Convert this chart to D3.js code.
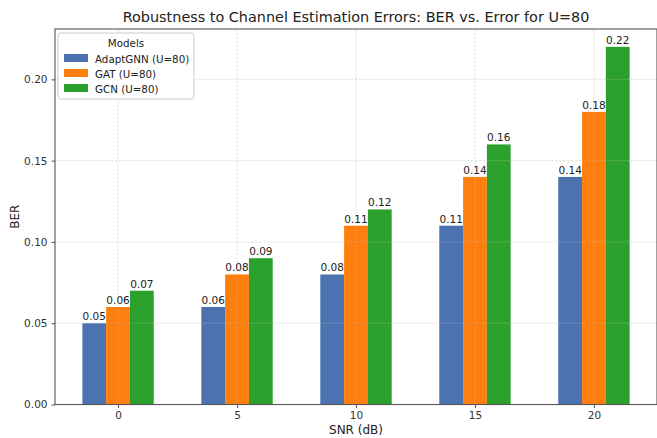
<!DOCTYPE html>
<html>
<head>
<meta charset="utf-8">
<script src="https://cdn.jsdelivr.net/npm/d3@7"></script>
<style>
  body { margin: 0; background: #fff; }
  svg { font-family: "DejaVu Sans", sans-serif; }
</style>
</head>
<body>
<svg id="chart" width="657" height="438"></svg>
<script>
// SNR points and BER per model
const snr = [0, 5, 10, 15, 20];
const adaptGNN = [0.05, 0.06, 0.08, 0.11, 0.14];
const gat = [0.06, 0.08, 0.11, 0.14, 0.18];
const gcn = [0.07, 0.09, 0.12, 0.16, 0.22];
const seriesNames = ["AdaptGNN (U=80)", "GAT (U=80)", "GCN (U=80)"];
const seriesColors = ["#4c72b0", "#ff7f0e", "#2ca02c"];
const yTicks = [0.00, 0.05, 0.10, 0.15, 0.20];

const series = [adaptGNN, gat, gcn].map((vals, i) => ({
  name: seriesNames[i], color: seriesColors[i], offset: i - 1, vals
}));

const svg = d3.select("#chart");
const m = { left: 55, right: 657, top: 29, bottom: 404.5 };
const barW = 1; // bar width in SNR units

const x = d3.scaleLinear().domain([-2.65, 22.65]).range([m.left, m.right]);
const y = d3.scaleLinear().domain([0, 0.231]).range([m.bottom, m.top]);

// bars
series.forEach(s => {
  svg.append("g").selectAll("rect").data(s.vals).join("rect")
    .attr("x", (d, i) => x(snr[i] + s.offset - barW / 2))
    .attr("width", (d, i) => x(snr[i] + s.offset + barW / 2) - x(snr[i] + s.offset - barW / 2))
    .attr("y", d => y(d))
    .attr("height", d => y(0) - y(d))
    .attr("fill", s.color);
});

// grid lines (drawn over bars, faint dashed)
const grid = svg.append("g").attr("stroke", "#b8b8b8").attr("stroke-opacity", 0.55)
  .attr("stroke-dasharray", "2.5,1.5").attr("stroke-width", 0.8);
grid.selectAll("line.v").data(snr).join("line")
  .attr("x1", d => x(d)).attr("x2", d => x(d)).attr("y1", m.top).attr("y2", m.bottom);
grid.selectAll("line.h").data(yTicks).join("line")
  .attr("y1", d => y(d)).attr("y2", d => y(d)).attr("x1", m.left).attr("x2", m.right);

// value labels
series.forEach(s => {
  svg.append("g").selectAll("text").data(s.vals).join("text")
    .attr("x", (d, i) => x(snr[i] + s.offset))
    .attr("y", d => y(d) - 3)
    .attr("text-anchor", "middle")
    .attr("font-size", 10.5).attr("fill", "#222")
    .text(d => d.toFixed(2));
});

// axes
const xAxis = d3.axisBottom(x).tickValues(snr).tickFormat(d3.format("d")).tickSizeOuter(0).tickSize(3.5).tickPadding(4);
const yAxis = d3.axisLeft(y).tickValues(yTicks).tickFormat(d3.format(".2f")).tickSizeOuter(0).tickSize(3.5).tickPadding(4);
const gx = svg.append("g").attr("transform", `translate(0,${m.bottom})`).call(xAxis);
const gy = svg.append("g").attr("transform", `translate(${m.left},0)`).call(yAxis);
[gx, gy].forEach(g => {
  g.select(".domain").remove();
  g.selectAll("line").attr("stroke", "#555");
  g.selectAll("text").attr("font-size", 10.5).attr("fill", "#333").attr("font-family", "DejaVu Sans, sans-serif");
});

// frame
svg.append("rect").attr("x", m.left).attr("y", m.top)
  .attr("width", m.right - m.left).attr("height", m.bottom - m.top)
  .attr("fill", "none").attr("stroke", "#555").attr("stroke-width", 1.1);

// titles
svg.append("text").attr("x", (m.left + m.right) / 2).attr("y", 22)
  .attr("text-anchor", "middle").attr("font-size", 14.4).attr("fill", "#222")
  .text("Robustness to Channel Estimation Errors: BER vs. Error for U=80");
svg.append("text").attr("x", (m.left + m.right) / 2).attr("y", 434)
  .attr("text-anchor", "middle").attr("font-size", 12).attr("fill", "#222")
  .text("SNR (dB)");
svg.append("text").attr("transform", `translate(19,${(m.top + m.bottom) / 2}) rotate(-90)`)
  .attr("text-anchor", "middle").attr("font-size", 12).attr("fill", "#222")
  .text("BER");

// legend
const lg = svg.append("g").attr("transform", "translate(58,33)");
lg.append("rect").attr("width", 136).attr("height", 66).attr("rx", 3)
  .attr("fill", "#fff").attr("fill-opacity", 0.85).attr("stroke", "#ccc");
lg.append("text").attr("x", 68).attr("y", 14).attr("text-anchor", "middle")
  .attr("font-size", 10.3).attr("fill", "#222").text("Models");
series.forEach((s, i) => {
  const row = lg.append("g").attr("transform", `translate(6,${21 + i * 15})`);
  row.append("rect").attr("width", 24).attr("height", 8).attr("fill", s.color);
  row.append("text").attr("x", 31).attr("y", 8.5).attr("font-size", 10.3).attr("fill", "#222").text(s.name);
});
</script>
</body>
</html>
